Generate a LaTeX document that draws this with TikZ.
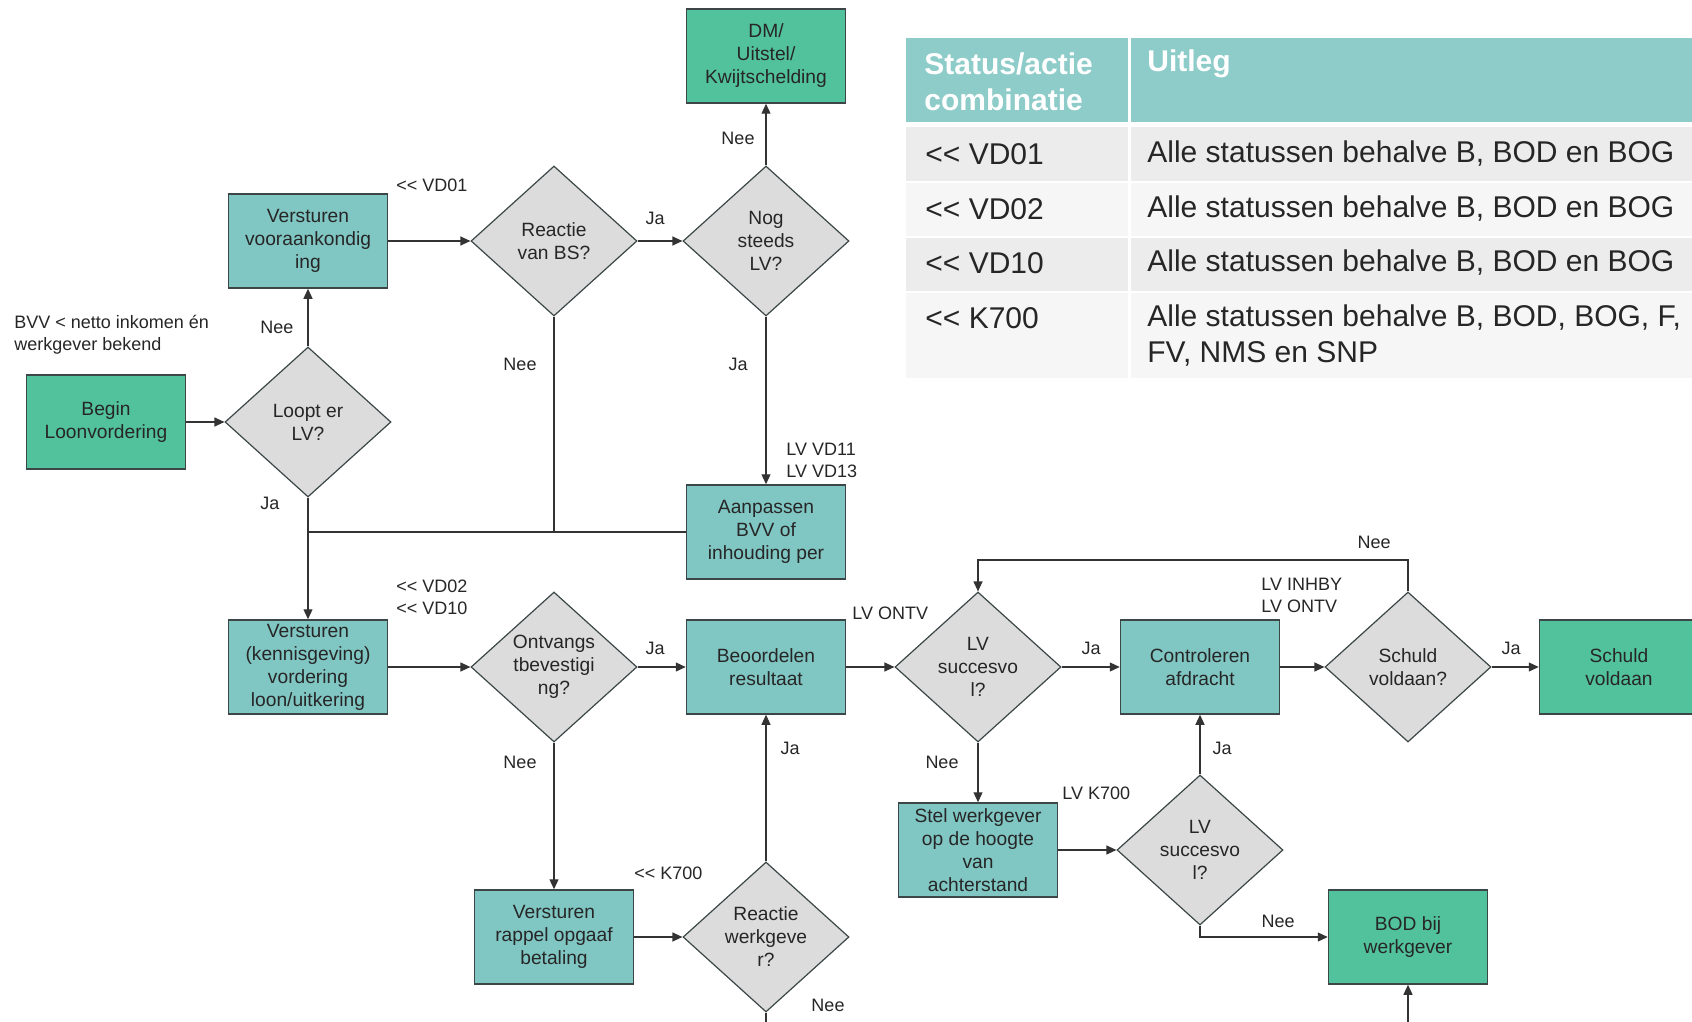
\documentclass[tikz,border=0pt]{standalone}
\usepackage{fontspec}
\setmainfont{Liberation Sans}
\usetikzlibrary{shapes.geometric,arrows.meta}

\definecolor{procteal}{HTML}{80C6C3}
\definecolor{termgreen}{HTML}{52C29C}
\definecolor{decgray}{HTML}{DCDCDC}
\definecolor{rimgray}{HTML}{3C4646}
\definecolor{headteal}{HTML}{8ECCC9}
\definecolor{rowgray}{HTML}{ECECEC}
\definecolor{rowlight}{HTML}{F6F6F6}
\newcommand\boxfont{\fontsize{9.6}{11.5}\selectfont}
\newcommand\lblfont{\fontsize{9}{11}\selectfont}
\newcommand\tblfont{\fontsize{15}{18}\selectfont}

\begin{document}
\begin{tikzpicture}[x=0.5pt,y=-0.5pt,
        proc/.style={draw=rimgray, line width=0.75pt, fill=procteal, text=black!85,
            minimum width=79.5pt, minimum height=47pt, inner sep=1pt,
            align=center, font=\boxfont},
        term/.style={proc, fill=termgreen},
        dec/.style={diamond, draw=rimgray, line width=0.6pt, fill=decgray, text=black!85,
            minimum width=83pt, minimum height=75pt, inner sep=0pt,
            align=center, font=\boxfont},
        lbl/.style={font=\lblfont, inner sep=1pt, text=black!85},
        flow/.style={-{Triangle[length=5pt,width=4.5pt]}, line width=0.6pt, draw=black!80},
        link/.style={line width=0.6pt, draw=black!80},
        tbl/.style={font=\tblfont, inner sep=0pt, anchor=west, text=black!85}
    ]
    \useasboundingbox (0,0) rectangle (1692,1022);
    \clip (0,0) rectangle (1692,1022);

    % table
    \fill[headteal] (906,38) rectangle (1692,122);
    \fill[rowgray] (906,127) rectangle (1692,181);
    \fill[rowlight] (906,183) rectangle (1692,236);
    \fill[rowgray] (906,238) rectangle (1692,291);
    \fill[rowlight] (906,293) rectangle (1692,378);
    \draw[white, line width=1.5pt] (1129,38) -- (1129,378);
    \node[tbl, text=white, font=\tblfont\bfseries, align=left] (hstatus) at (924,82) {Status/actie\\combinatie};
    \node[tbl, text=white, font=\tblfont\bfseries] (huitleg) at (1147,64) {Uitleg};
    \node[tbl] (rvd01) at (925,154) {<{}< VD01};
    \node[tbl] (rvd02) at (925,209) {<{}< VD02};
    \node[tbl] (rvd10) at (925,263) {<{}< VD10};
    \node[tbl] (rk700) at (925,318) {<{}< K700};
    \node[tbl] (uvd01) at (1147,154) {Alle statussen behalve B, BOD en BOG};
    \node[tbl] (uvd02) at (1147,209) {Alle statussen behalve B, BOD en BOG};
    \node[tbl] (uvd10) at (1147,263) {Alle statussen behalve B, BOD en BOG};
    \node[tbl, align=left] (uk700) at (1147,336) {Alle statussen behalve B, BOD, BOG, F,\\FV, NMS en SNP};

    % flow nodes
    \node[term] (dm) at (766,56) {DM/\\Uitstel/\\Kwijtschelding};
    \node[proc] (vooraank) at (308,241) {Versturen\\vooraankondig\\ing};
    \node[dec] (reactiebs) at (554,241) {Reactie\\van BS?};
    \node[dec] (nogsteeds) at (766,241) {Nog\\steeds\\LV?};
    \node[term] (begin) at (106,422) {Begin\\Loonvordering};
    \node[dec] (loopt) at (308,422) {Loopt er\\LV?};
    \node[proc] (aanpassen) at (766,532) {Aanpassen\\BVV of\\inhouding per};
    \node[proc] (kennisg) at (308,667) {Versturen\\(kennisgeving)\\vordering\\loon/uitkering};
    \node[dec] (ontvangst) at (554,667) {Ontvangs\\tbevestigi\\ng?};
    \node[proc] (beoordelen) at (766,667) {Beoordelen\\resultaat};
    \node[dec] (succes) at (978,667) {LV\\succesvo\\l?};
    \node[proc] (controleren) at (1200,667) {Controleren\\afdracht};
    \node[dec] (schuldq) at (1408,667) {Schuld\\voldaan?};
    \node[term] (schuld) at (1619,667) {Schuld\\voldaan};
    \node[proc] (stel) at (978,850) {Stel werkgever\\op de hoogte\\van\\achterstand};
    \node[dec] (succes2) at (1200,850) {LV\\succesvo\\l?};
    \node[proc] (rappel) at (554,937) {Versturen\\rappel opgaaf\\betaling};
    \node[dec] (reactiewg) at (766,937) {Reactie\\werkgeve\\r?};
    \node[term] (bod) at (1408,937) {BOD bij\\werkgever};
    \coordinate (looptop) at (1408,560);
    \coordinate (wgend) at (766,1022);
    \coordinate (bodin) at (1408,1022);

    % connectors
    \draw[flow] (begin) -- (loopt);
    \draw[flow] (loopt) -- (vooraank);
    \draw[flow] (loopt) -- (kennisg);
    \draw[flow] (vooraank) -- (reactiebs);
    \draw[flow] (reactiebs) -- (nogsteeds);
    \draw[flow] (nogsteeds) -- (dm);
    \draw[flow] (nogsteeds) -- (aanpassen);
    \draw[link] (reactiebs.south) -- (reactiebs.south |- aanpassen.west);
    \draw[link] (aanpassen.west) -- (loopt.south |- aanpassen.west);
    \draw[flow] (kennisg) -- (ontvangst);
    \draw[flow] (ontvangst) -- (beoordelen);
    \draw[flow] (ontvangst) -- (rappel);
    \draw[flow] (rappel) -- (reactiewg);
    \draw[flow] (reactiewg) -- (beoordelen);
    \draw[link] (reactiewg.south) -- (wgend);
    \draw[flow] (beoordelen) -- (succes);
    \draw[flow] (succes) -- (controleren);
    \draw[flow] (succes) -- (stel);
    \draw[flow] (controleren) -- (schuldq);
    \draw[flow] (schuldq.north) -- (looptop) -| (succes.north);
    \draw[flow] (schuldq) -- (schuld);
    \draw[flow] (stel) -- (succes2);
    \draw[flow] (succes2) -- (controleren);
    \draw[flow] (succes2.south) |- (bod.west);
    \draw[flow] (bodin) -- (bod.south);

    % labels
    \node[lbl, anchor=west, align=left] (bvv) at (12,335) {BVV < netto inkomen én\\werkgever bekend};
    \node[lbl] (lnee1) at (277,327) {Nee};
    \node[lbl] (lja1) at (270,503) {Ja};
    \node[lbl, anchor=west] (lvd01) at (394,185) {<{}< VD01};
    \node[lbl] (lja2) at (655,218) {Ja};
    \node[lbl] (lnee2) at (738,138) {Nee};
    \node[lbl] (lja3) at (738,364) {Ja};
    \node[lbl, anchor=west, align=left] (lvd11) at (784,460) {LV VD11\\LV VD13};
    \node[lbl] (lnee3) at (520,364) {Nee};
    \node[lbl, anchor=west, align=left] (lvd02) at (394,597) {<{}< VD02\\<{}< VD10};
    \node[lbl] (lja4) at (655,648) {Ja};
    \node[lbl] (lnee4) at (520,762) {Nee};
    \node[lbl, anchor=west] (lk700) at (632,873) {<{}< K700};
    \node[lbl] (lja5) at (790,748) {Ja};
    \node[lbl] (lnee5) at (828,1005) {Nee};
    \node[lbl, anchor=west] (lontv) at (850,613) {LV ONTV};
    \node[lbl] (lja6) at (1091,648) {Ja};
    \node[lbl] (lnee6) at (942,762) {Nee};
    \node[lbl, anchor=west, align=left] (linhby) at (1259,595) {LV INHBY\\LV ONTV};
    \node[lbl] (lnee7) at (1374,542) {Nee};
    \node[lbl] (lja7) at (1511,648) {Ja};
    \node[lbl, anchor=west] (llvk700) at (1060,793) {LV K700};
    \node[lbl] (lja8) at (1222,748) {Ja};
    \node[lbl] (lnee8) at (1278,921) {Nee};
\end{tikzpicture}
\end{document}
